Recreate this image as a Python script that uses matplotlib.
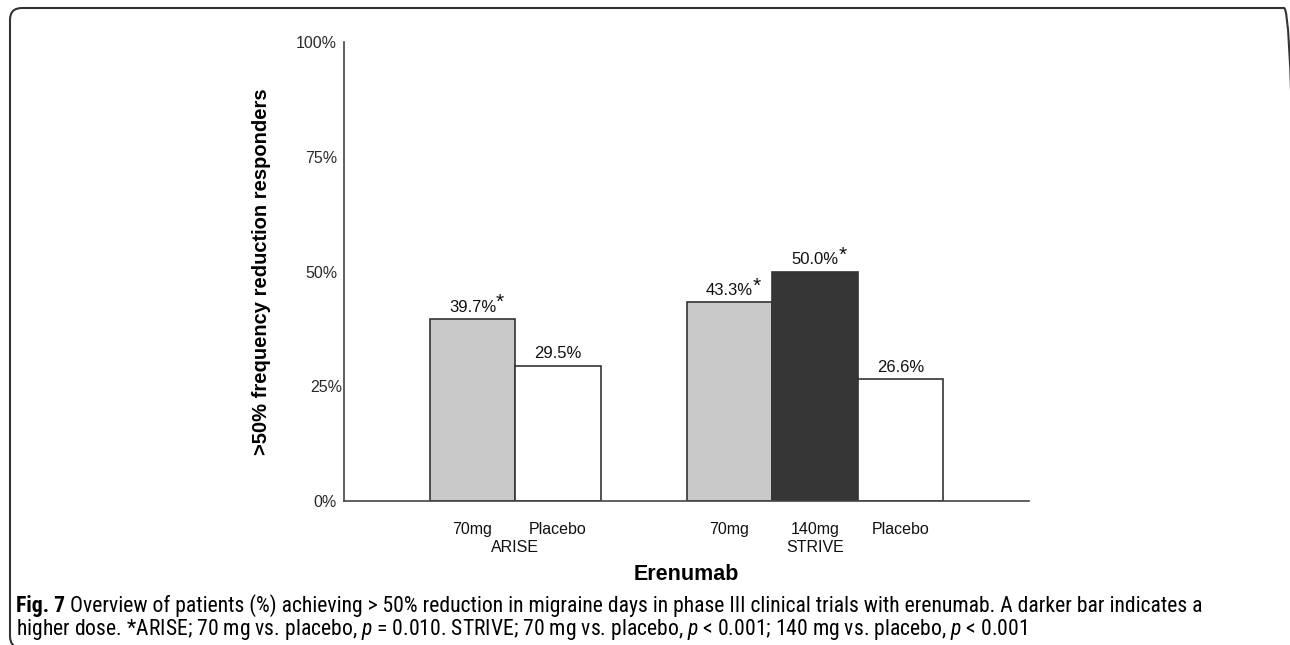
import matplotlib
matplotlib.use('Agg')
import matplotlib.pyplot as plt
from matplotlib.patches import FancyBboxPatch
from matplotlib.transforms import blended_transform_factory, ScaledTranslation
from matplotlib import font_manager

plt.rcParams['font.family'] = ['Liberation Sans', 'DejaVu Sans']

# ---- data ----
groups = ['ARISE', 'STRIVE']
categories = ['70mg', 'Placebo', '70mg', '140mg', 'Placebo']
bar_group = ['ARISE', 'ARISE', 'STRIVE', 'STRIVE', 'STRIVE']
values = [39.7, 29.5, 43.3, 50.0, 26.6]
value_labels = ['39.7%', '29.5%', '43.3%', '50.0%', '26.6%']
significant = [True, False, True, True, False]
bar_colors = ['#c9c9c9', '#ffffff', '#c9c9c9', '#363636', '#ffffff']
yticks = [0, 25, 50, 75, 100]
ytick_labels = ['0%', '25%', '50%', '75%', '100%']
y_label = '>50% frequency reduction responders'
x_label = 'Erenumab'
caption_bold = 'Fig. 7'
caption_line1 = (' Overview of patients (%) achieving > 50% reduction in migraine days in phase III '
                 'clinical trials with erenumab. A darker bar indicates a')
caption_line2 = ('higher dose. *ARISE; 70 mg vs. placebo, $p$ = 0.010. STRIVE; 70 mg vs. placebo, '
                 '$p$ < 0.001; 140 mg vs. placebo, $p$ < 0.001')

# slots: one empty slot before each group and one at the end
positions = [1, 2, 4, 5, 6]
group_centers = [1.5, 5]

names = {f.name for f in font_manager.fontManager.ttflist}
cap_font = 'Open Sans'
for cand in ['Roboto Condensed', 'Liberation Sans Narrow', 'Open Sans Condensed', 'Roboto']:
    if cand in names:
        cap_font = cand
        break
plt.rcParams['mathtext.fontset'] = 'custom'
plt.rcParams['mathtext.rm'] = cap_font
plt.rcParams['mathtext.it'] = cap_font + ':italic'

W, H = 1290, 645
fig = plt.figure(figsize=(W / 100, H / 100), dpi=100)
ax = fig.add_axes([344 / W, 1 - 501 / H, (1029 - 344) / W, (501 - 42) / H])

edge = '#333333'
bars = ax.bar(positions, values, width=1.0, color=bar_colors, edgecolor=edge, linewidth=1.2)

ax.set_xlim(-0.5, 7.5)
ax.set_ylim(0, 100)
ax.set_yticks(yticks)
ax.set_yticklabels(ytick_labels, fontsize=11.5, color='#2a2a2a', family='Liberation Sans')
ax.tick_params(axis='y', length=0, pad=5)
# the 25% label sits right against the axis in the original
for lab in ax.get_yticklabels():
    if lab.get_text() == '25%':
        lab.set_transform(lab.get_transform() + ScaledTranslation(4 / 72, 0, fig.dpi_scale_trans))
ax.set_xticks(positions)
ax.set_xticklabels(categories, fontsize=11.5, color='#111111', family='Liberation Sans')
ax.tick_params(axis='x', length=0, pad=15)
for s in ['top', 'right']:
    ax.spines[s].set_visible(False)
for s in ['left', 'bottom']:
    ax.spines[s].set_color('#444444')
    ax.spines[s].set_linewidth(1.2)

ax.set_ylabel(y_label, fontsize=14.5, fontweight='bold', labelpad=18, family='Liberation Sans')

# value labels with asterisks
for p, v, lab, sig in zip(positions, values, value_labels, significant):
    t = ax.annotate(lab, xy=(p, v), xytext=(0, 3), textcoords='offset points',
                    ha='center', va='bottom', fontsize=12, color='#111111',
                    family='Liberation Sans')
    if sig:
        ax.annotate('*', xy=(1.0, 0.42), xycoords=t, xytext=(0, 0),
                    textcoords='offset points', ha='left', va='baseline',
                    fontsize=15, color='#111111', family='Liberation Sans')

# group labels
tr = blended_transform_factory(ax.transData, ax.transAxes)
for g, c in zip(groups, group_centers):
    ax.text(c, -0.085, g, transform=tr, ha='center', va='top', fontsize=11.5,
            color='#111111', family='Liberation Sans')

ax.text(0.5, -0.138, x_label, transform=ax.transAxes, ha='center', va='top',
        fontsize=15.5, fontweight='bold', family='Liberation Sans')

# caption
fig.canvas.draw()
r = fig.canvas.get_renderer()
base = 12.5
tb = fig.text(16 / W, 1 - 612 / H, caption_bold, fontsize=base, fontweight='bold',
              family=cap_font, va='baseline', ha='left')
bb = tb.get_window_extent(r)
t1 = fig.text(bb.x1 / W, 1 - 612 / H, caption_line1, fontsize=base, family=cap_font,
              va='baseline', ha='left')
w1 = t1.get_window_extent(r)
target = 1200
scale = (target - bb.x1) / w1.width
t1.set_fontsize(base * scale)
tb.set_fontsize(base * scale)
bb = tb.get_window_extent(r)
t1.set_x(bb.x1 / W)
t2 = fig.text(16 / W, 1 - 635 / H, caption_line2, fontsize=base * scale, family=cap_font,
              va='baseline', ha='left')

frame = FancyBboxPatch((10, -3), 1286, 640, boxstyle='round,pad=0,rounding_size=12',
                       transform=None, facecolor='none', edgecolor='#333333', linewidth=1.5)
fig.patches.append(frame)

fig.savefig('out.png', dpi=100, facecolor='white')
